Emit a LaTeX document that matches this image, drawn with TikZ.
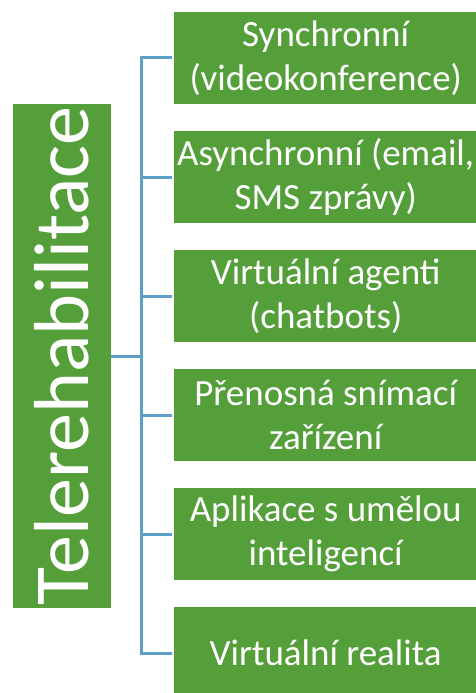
\documentclass[tikz,border=0pt]{standalone}
\usepackage{fontspec}
\setmainfont{Carlito}
\usetikzlibrary{positioning}
\definecolor{LEAF}{HTML}{559F3B}
\definecolor{LINK}{HTML}{5E9FC9}
\tikzset{
  ROOT/.style={% tall box on the left, text turned upwards
      rectangle,
      fill=LEAF,
      text=white,
      rotate=90,
      inner sep=0pt,
      minimum width=504pt,
      minimum height=98pt,
      font=\fontsize{78}{92}\selectfont
  },
  LEAF/.style={% boxes of the list on the right
      rectangle,
      fill=LEAF,
      text=white,
      align=center,
      anchor=west,
      inner sep=0pt,
      minimum width=303pt,
      minimum height=92pt,
      font=\fontsize{37}{44}\selectfont
  },
  LINK/.style={draw=LINK, line width=3pt}
}

\begin{document}
\begin{tikzpicture}[x=1pt,y=-1pt]
  \useasboundingbox (0,0) rectangle (476,693);
  \node[ROOT] (Root) at (62,356) {Telerehabilitace};
  \coordinate (Hub) at (141,356); % where the branches meet
  \foreach \n/\txt in {%
      1/{Synchronní\\(videokonference)},
      2/{Asynchronní (email,\\SMS zprávy)},
      3/{Virtuální agenti\\(chatbots)},
      4/{Přenosná snímací\\zařízení},
      5/{Aplikace s umělou\\inteligencí},
      6/{Virtuální realita}} {%
    \node[LEAF] (Leaf\n) at (174,{58+119*(\n-1)}) {\txt};
    \draw[LINK] ([xshift=-2pt]Leaf\n.west) -| (Hub);
  }
  \draw[LINK] (Root.south) -- (Hub);
\end{tikzpicture}
\end{document}
